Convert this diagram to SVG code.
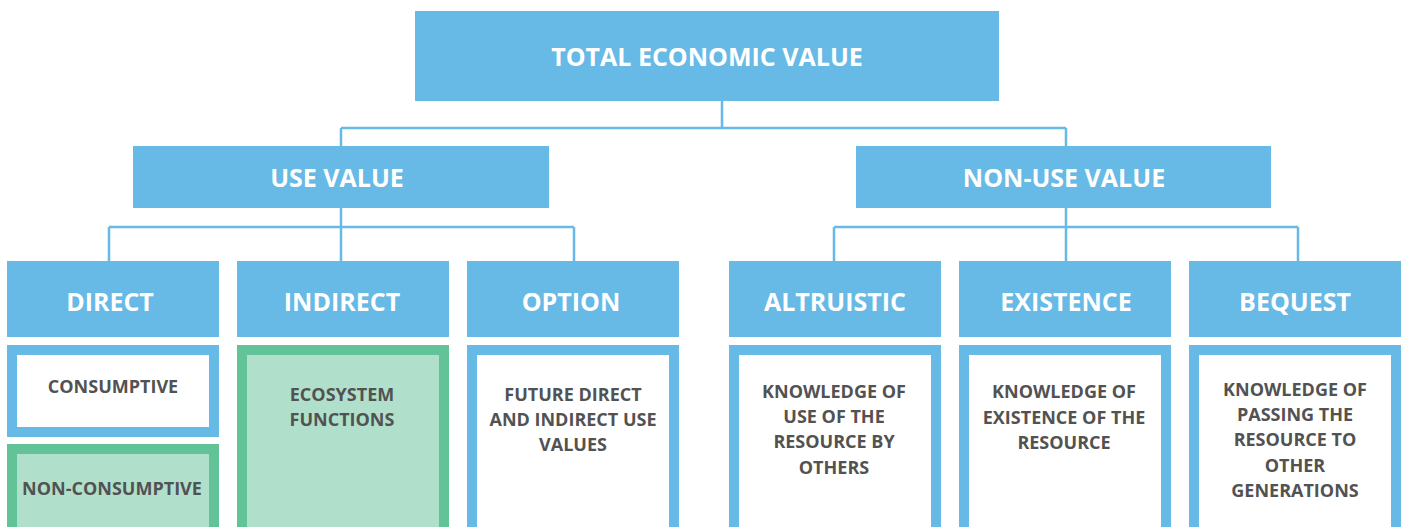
<svg xmlns="http://www.w3.org/2000/svg" width="1405" height="527" viewBox="0 0 1405 527">
<style>
.hdr{fill:#67B9E6}
.hdt{font-family:"Open Sans","DejaVu Sans",sans-serif;font-weight:700;font-size:25px;fill:#FFFFFF;text-anchor:middle}
.bb{fill:#FFFFFF;stroke:#67B9E6;stroke-width:10}
.gb{fill:#B0E0CB;stroke:#62C399;stroke-width:10}
.bt{font-family:"Open Sans","DejaVu Sans",sans-serif;font-weight:700;font-size:18px;fill:#525252;text-anchor:middle}
.cn{fill:none;stroke:#67B9E6;stroke-width:2.5}
</style>
<rect width="1405" height="527" fill="#FFFFFF"/>
<g id="connectors">
<path class="cn" d="M722,101 V128 M341,128 H1066 M341,128 V146 M1066,128 V146"/>
<path class="cn" d="M341,208 V227 M109,227 H574 M109,227 V261 M341,227 V261 M574,227 V261"/>
<path class="cn" d="M1066,208 V227 M834,227 H1298 M834,227 V261 M1066,227 V261 M1298,227 V261"/>
</g>
<g id="total">
<rect class="hdr" x="415" y="11" width="584" height="90"/>
<text class="hdt" x="707" y="66">TOTAL ECONOMIC VALUE</text>
</g>
<g id="use-value">
<rect class="hdr" x="133" y="146" width="416" height="62"/>
<text class="hdt" x="337" y="187">USE VALUE</text>
</g>
<g id="non-use-value">
<rect class="hdr" x="856" y="146" width="415" height="62"/>
<text class="hdt" x="1064" y="187">NON-USE VALUE</text>
</g>
<g id="direct">
<rect class="hdr" x="7" y="261" width="212" height="76"/>
<text class="hdt" x="110" y="311">DIRECT</text>
</g>
<g id="indirect">
<rect class="hdr" x="237" y="261" width="212" height="76"/>
<text class="hdt" x="342" y="311">INDIRECT</text>
</g>
<g id="option">
<rect class="hdr" x="467" y="261" width="212" height="76"/>
<text class="hdt" x="571" y="311">OPTION</text>
</g>
<g id="altruistic">
<rect class="hdr" x="729" y="261" width="212" height="76"/>
<text class="hdt" x="835" y="311">ALTRUISTIC</text>
</g>
<g id="existence">
<rect class="hdr" x="959" y="261" width="212" height="76"/>
<text class="hdt" x="1066" y="311">EXISTENCE</text>
</g>
<g id="bequest">
<rect class="hdr" x="1189" y="261" width="212" height="76"/>
<text class="hdt" x="1295" y="311">BEQUEST</text>
</g>
<g id="consumptive">
<rect class="bb" x="12" y="350" width="202" height="82"/>
<text class="bt" x="113" y="393">CONSUMPTIVE</text>
</g>
<g id="non-consumptive">
<rect class="gb" x="12" y="449" width="202" height="84"/>
<text class="bt" x="112" y="495">NON-CONSUMPTIVE</text>
</g>
<g id="ecosystem-functions">
<rect class="gb" x="242" y="350" width="202" height="183"/>
<text class="bt" x="342" y="401">ECOSYSTEM</text>
<text class="bt" x="342" y="426">FUNCTIONS</text>
</g>
<g id="future-use">
<rect class="bb" x="472" y="350" width="202" height="183"/>
<text class="bt" x="573" y="401">FUTURE DIRECT</text>
<text class="bt" x="573" y="426">AND INDIRECT USE</text>
<text class="bt" x="573" y="451">VALUES</text>
</g>
<g id="knowledge-use">
<rect class="bb" x="734" y="350" width="202" height="183"/>
<text class="bt" x="834" y="398">KNOWLEDGE OF</text>
<text class="bt" x="834" y="423">USE OF THE</text>
<text class="bt" x="834" y="448">RESOURCE BY</text>
<text class="bt" x="834" y="474">OTHERS</text>
</g>
<g id="knowledge-existence">
<rect class="bb" x="964" y="350" width="202" height="183"/>
<text class="bt" x="1064" y="398">KNOWLEDGE OF</text>
<text class="bt" x="1064" y="424">EXISTENCE OF THE</text>
<text class="bt" x="1064" y="449">RESOURCE</text>
</g>
<g id="knowledge-passing">
<rect class="bb" x="1194" y="350" width="202" height="183"/>
<text class="bt" x="1295" y="396">KNOWLEDGE OF</text>
<text class="bt" x="1295" y="421">PASSING THE</text>
<text class="bt" x="1295" y="446">RESOURCE TO</text>
<text class="bt" x="1295" y="472">OTHER</text>
<text class="bt" x="1295" y="497">GENERATIONS</text>
</g>
</svg>
